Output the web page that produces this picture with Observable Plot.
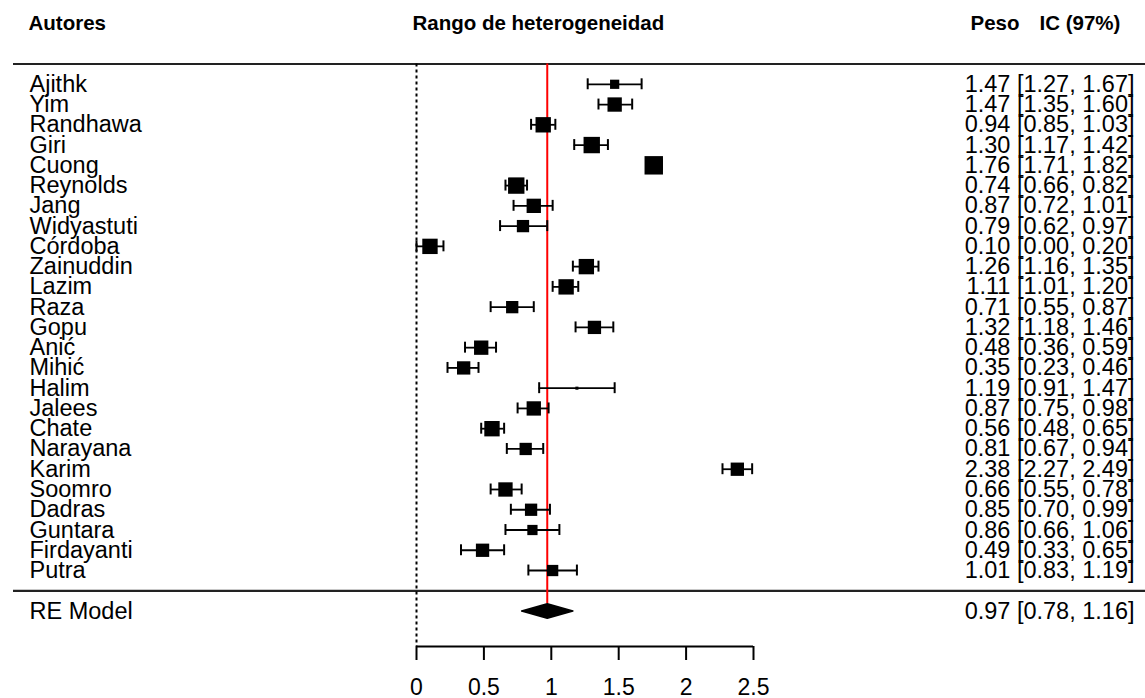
<!DOCTYPE html>
<html>
<head>
<meta charset="utf-8">
<script src="https://cdn.jsdelivr.net/npm/d3@7"></script>
<script src="https://cdn.jsdelivr.net/npm/@observablehq/plot@0.6"></script>
<style>
  body { margin: 0; background: #fff; }
</style>
</head>
<body>
<div id="chart"></div>
<script>
// ---- Data ----
const autores = ["Ajithk","Yim","Randhawa","Giri","Cuong","Reynolds","Jang","Widyastuti","Córdoba","Zainuddin","Lazim","Raza","Gopu","Anić","Mihić","Halim","Jalees","Chate","Narayana","Karim","Soomro","Dadras","Guntara","Firdayanti","Putra"];
const peso  = [1.47,1.47,0.94,1.30,1.76,0.74,0.87,0.79,0.10,1.26,1.11,0.71,1.32,0.48,0.35,1.19,0.87,0.56,0.81,2.38,0.66,0.85,0.86,0.49,1.01];
const icInf = [1.27,1.35,0.85,1.17,1.71,0.66,0.72,0.62,0.00,1.16,1.01,0.55,1.18,0.36,0.23,0.91,0.75,0.48,0.67,2.27,0.55,0.70,0.66,0.33,0.83];
const icSup = [1.67,1.60,1.03,1.42,1.82,0.82,1.01,0.97,0.20,1.35,1.20,0.87,1.46,0.59,0.46,1.47,0.98,0.65,0.94,2.49,0.78,0.99,1.06,0.65,1.19];
// relative study weights (%), estimated from the square sizes
const pesoRel = [1.8,4.35,5.0,5.68,7.19,5.68,4.35,3.2,5.0,5.0,5.0,3.2,3.75,4.35,3.75,0.2,4.35,5.0,3.2,3.75,4.35,3.2,2.22,3.75,2.69];
// random-effects model
const reNombre = "RE Model";
const reEst = 0.97, reInf = 0.78, reSup = 1.16;
// headers and axis ticks
const cabeceras = ["Autores", "Rango de heterogeneidad", "Peso", "IC (97%)"];
const xTicks = [0, 0.5, 1, 1.5, 2, 2.5];

// ---- Derived tables ----
const fmt = v => v.toFixed(2);
const n = autores.length;
const estudios = autores.map((a, i) => ({
  autor: a, fila: n - i, est: peso[i], lo: icInf[i], hi: icSup[i], w: pesoRel[i],
  etiqueta: `${fmt(peso[i])} [${fmt(icInf[i])}, ${fmt(icSup[i])}]`
}));
const filaRE = -1, filaLinea = n + 1, filaCab = n + 3, filaEje = -2.75;
const alto = 0.36;
const diamante = [
  {x: reInf, y: filaRE}, {x: reEst, y: filaRE + alto},
  {x: reSup, y: filaRE}, {x: reEst, y: filaRE - alto}, {x: reInf, y: filaRE}
];
const re = [{fila: filaRE, nombre: reNombre, etiqueta: `${fmt(reEst)} [${fmt(reInf)}, ${fmt(reSup)}]`}];
const cab = cabeceras.map((t, i) => ({t, i, fila: filaCab}));

const FONT = "'Liberation Sans', Arial, Helvetica, sans-serif";
const W = 1145, H = 698, ML = 416, MR = 392;

const chart = Plot.plot({
  width: W, height: H,
  marginLeft: ML, marginRight: MR, marginTop: 23, marginBottom: 52,
  style: {fontFamily: FONT, fontSize: "23px", background: "#fff", color: "#000", overflow: "visible"},
  x: {domain: [0, 2.5]},
  y: {domain: [filaEje, filaCab], axis: null},
  r: {type: "sqrt", domain: [0, 7.19], range: [0, 10.4]},
  marks: [
    // horizontal separators (full width)
    Plot.ruleY([filaLinea, 0], {stroke: "#222", strokeWidth: 2.2, insetLeft: -(ML - 13), insetRight: -MR}),
    // dotted reference line at 0
    Plot.ruleX([0], {y1: filaLinea, y2: filaEje, stroke: "#000", strokeWidth: 2, strokeDasharray: "3,3"}),
    // red summary line
    Plot.ruleX([reEst], {y1: filaLinea, y2: filaRE + alto, stroke: "#ff0000", strokeWidth: 2}),
    // CIs
    Plot.ruleY(estudios, {y: "fila", x1: "lo", x2: "hi", stroke: "#000", strokeWidth: 1.8}),
    Plot.ruleX(estudios, {x: "lo", y1: d => d.fila - 0.27, y2: d => d.fila + 0.27, stroke: "#000", strokeWidth: 2}),
    Plot.ruleX(estudios, {x: "hi", y1: d => d.fila - 0.27, y2: d => d.fila + 0.27, stroke: "#000", strokeWidth: 2}),
    // squares
    Plot.dot(estudios, {x: "est", y: "fila", r: "w", symbol: "square", fill: "#000", stroke: "none"}),
    // RE diamond
    Plot.line(diamante, {x: "x", y: "y", fill: "#000", stroke: "#000", strokeWidth: 1.5}),
    // left labels
    Plot.text(estudios, {y: "fila", text: "autor", frameAnchor: "left", dx: -(ML - 29), textAnchor: "start", fontSize: 23.5, fill: "#000"}),
    Plot.text(re, {y: "fila", text: "nombre", frameAnchor: "left", dx: -(ML - 29), textAnchor: "start", fontSize: 23.5, fill: "#000"}),
    // right labels
    Plot.text(estudios, {y: "fila", text: "etiqueta", frameAnchor: "right", dx: 381, textAnchor: "end", fontSize: 23.5, fill: "#000"}),
    Plot.text(re, {y: "fila", text: "etiqueta", frameAnchor: "right", dx: 381, textAnchor: "end", fontSize: 23.5, fill: "#000"}),
    // headers
    Plot.text(cab.filter(d => d.i === 0), {y: "fila", text: "t", frameAnchor: "left", dx: -(ML - 28), textAnchor: "start", fontWeight: "bold", fontSize: 20.5, fill: "#000"}),
    Plot.text(cab.filter(d => d.i === 1), {y: "fila", text: "t", frameAnchor: "left", dx: -4, textAnchor: "start", fontWeight: "bold", fontSize: 20.5, fill: "#000"}),
    Plot.text(cab.filter(d => d.i === 2), {y: "fila", text: "t", frameAnchor: "right", dx: 217, textAnchor: "start", fontWeight: "bold", fontSize: 20.5, fill: "#000"}),
    Plot.text(cab.filter(d => d.i === 3), {y: "fila", text: "t", frameAnchor: "right", dx: 286, textAnchor: "start", fontWeight: "bold", fontSize: 20.5, fill: "#000"}),
    // x axis
    Plot.ruleY([filaEje], {stroke: "#000", strokeWidth: 2}),
    Plot.axisX({ticks: xTicks, anchor: "bottom", tickSize: 14, tickPadding: 18, fontSize: 23, strokeWidth: 2, tickFormat: d => String(d)})
  ]
});
document.getElementById("chart").appendChild(chart);
</script>
</body>
</html>
